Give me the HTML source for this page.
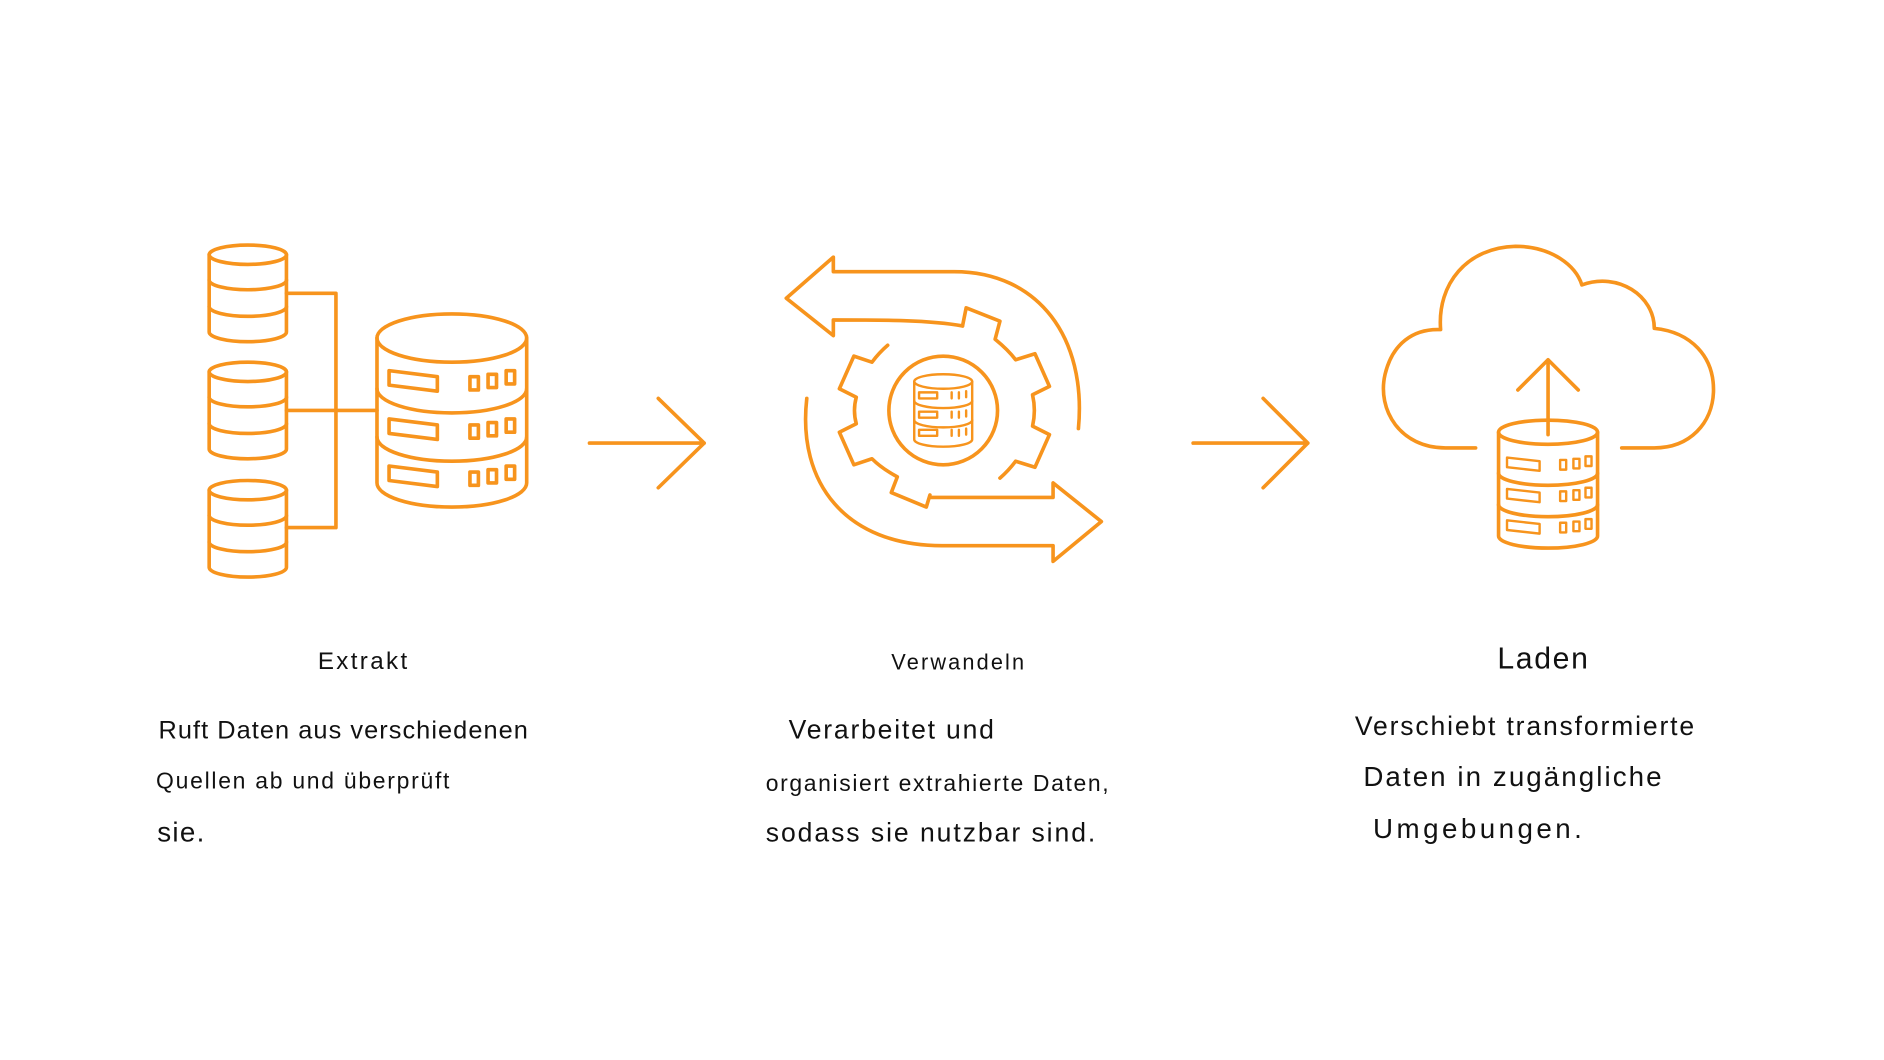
<!DOCTYPE html>
<html><head><meta charset="utf-8"><style>
html,body{margin:0;padding:0;background:#fff;width:1884px;height:1060px;overflow:hidden}
svg{display:block}
text{font-family:"Liberation Sans",sans-serif;fill:#111;dominant-baseline:middle}
</style></head><body>
<svg width="1884" height="1060" viewBox="0 0 1560 878" xmlns="http://www.w3.org/2000/svg">
<g fill="none" stroke="#f7941d" stroke-width="3" stroke-linejoin="round" stroke-linecap="round">
<!-- small cylinders -->
<g id="sc">
<ellipse cx="205" cy="211" rx="32" ry="8"/>
<path d="M173,211 V275 A32,8 0 0 0 237,275 V211"/>
<path d="M173,232 A32,8 0 0 0 237,232"/>
<path d="M173,254 A32,8 0 0 0 237,254"/>
</g>
<use href="#sc" y="97"/>
<use href="#sc" y="195"/>
<path d="M237,243 H278 V437 H237 M237,340 H312"/>
<!-- big cylinder -->
<ellipse cx="374" cy="280" rx="62" ry="20"/>
<path d="M312,280 V400 A62,20 0 0 0 436,400 V280"/>
<path d="M312,322 A62,20 0 0 0 436,322"/>
<path d="M312,362 A62,20 0 0 0 436,362"/>
<g id="sl"><path d="M322,307 L362,312 V324 L322,319 Z"/><rect x="389" y="312" width="7" height="11"/><rect x="404" y="310" width="7" height="11"/><rect x="419" y="307" width="7" height="11"/></g>
<use href="#sl" y="40"/>
<use href="#sl" y="79"/>
<!-- arrows -->
<path d="M488,367 H583 M545,330 L583,367 L545,404"/>
<path d="M988,367 H1083 M1046,330 L1083,367 L1046,404"/>
<!-- middle: curved arrows -->
<path d="M893,355 C900,280 860,225 790,225 H690 V213 L651,247 L690,278 V265 C730,265 770,265 797,270"/>
<path d="M668,330 C660,400 700,452 780,452 H872 V465 L912,432 L872,400 V412 H770"/>
<!-- gear -->
<path d="M797,270 L800,255 L828,266 L824,281 Q835,290 841,298 L857,293 L869,320 L855,327 Q858,340 855,353 L869,360 L857,387 L841,382 Q835,390 828,396"/>
<path d="M770,410 L767,420 L738,408 L743,395 Q730,388 722,380 L707,385 L695,358 L709,351 Q706,340 709,329 L695,322 L707,295 L722,300 Q728,292 735,286"/>
<circle cx="781" cy="340" r="45"/>
<g stroke-width="2">
<ellipse cx="781" cy="316" rx="24" ry="6"/>
<path d="M757,316 V364 A24,6 0 0 0 805,364 V316"/>
<path d="M757,332 A24,6 0 0 0 805,332 M757,348 A24,6 0 0 0 805,348"/>
<path d="M761,325 H776 V330 H761Z M761,341 H776 V346 H761Z M761,356 H776 V361 H761Z"/>
<path d="M788,325 v5 M794,325 v5 M800,324 v5 M788,341 v5 M794,341 v5 M800,340 v5 M788,356 v5 M794,356 v5 M800,355 v5"/>
</g>
<!-- cloud -->
<path d="M1222,371 H1197 C1160,371 1140,340 1147,310 C1153,285 1170,272 1193,273 C1190,235 1215,205 1255,204 C1285,204 1305,220 1310,236 C1340,225 1370,245 1370,272 C1400,275 1420,295 1419,325 C1418,350 1400,371 1370,371 H1343"/>
<path d="M1282,360 V298 M1257,323 L1282,298 L1307,323"/>
<ellipse cx="1282" cy="358" rx="41" ry="10"/>
<path d="M1241,358 V444 A41,10 0 0 0 1323,444 V358"/>
<path d="M1241,392 A41,10 0 0 0 1323,392 M1241,418 A41,10 0 0 0 1323,418"/>
<g stroke-width="2">
<path d="M1248,379 L1275,382 V390 L1248,387Z M1248,405 L1275,408 V416 L1248,413Z M1248,431 L1275,434 V442 L1248,439Z"/>
<path d="M1292,381h5v8h-5z M1303,380h5v8h-5z M1313,378h5v8h-5z M1292,407h5v8h-5z M1303,406h5v8h-5z M1313,404h5v8h-5z M1292,433h5v8h-5z M1303,432h5v8h-5z M1313,430h5v8h-5z"/>
</g>
</g>
<text x="263" y="549" font-size="20" textLength="74">Extrakt</text>
<text x="738" y="550" font-size="18" textLength="110">Verwandeln</text>
<text x="1240" y="547" font-size="25" textLength="75">Laden</text>
<text x="131" y="606" font-size="21" textLength="306">Ruft Daten aus verschiedenen</text>
<text x="129" y="648" font-size="19" textLength="243">Quellen ab und überprüft</text>
<text x="130" y="691" font-size="23" textLength="39">sie.</text>
<text x="653" y="606" font-size="22" textLength="170">Verarbeitet und</text>
<text x="634" y="650" font-size="19" textLength="284">organisiert extrahierte Daten,</text>
<text x="634" y="691" font-size="22" textLength="273">sodass sie nutzbar sind.</text>
<text x="1122" y="603" font-size="22" textLength="281">Verschiebt transformierte</text>
<text x="1129" y="645" font-size="23" textLength="247">Daten in zugängliche</text>
<text x="1137" y="688" font-size="23" textLength="173">Umgebungen.</text>
</svg>
</body></html>
